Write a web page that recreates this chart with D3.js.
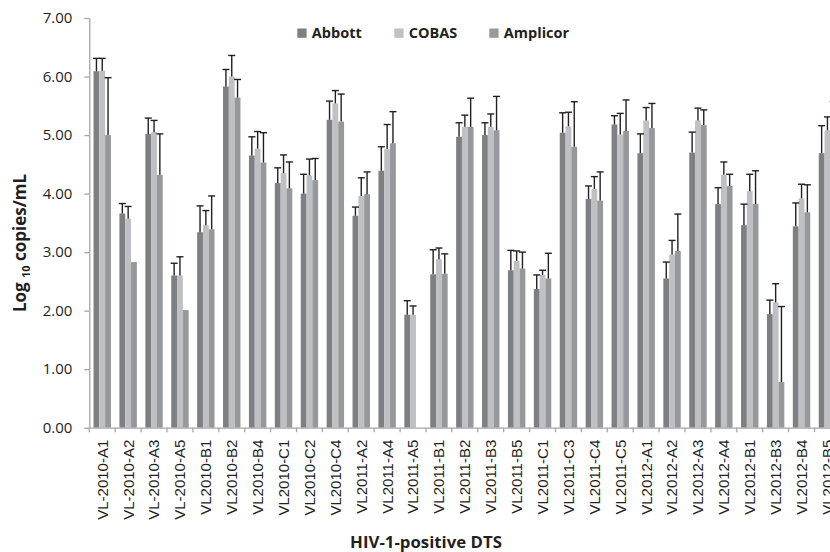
<!DOCTYPE html>
<html>
<head>
<meta charset="utf-8">
<script src="https://cdn.jsdelivr.net/npm/d3@7"></script>
<style>
    body { margin: 0; background: #fff; }
    svg { display: block; }
</style>
</head>
<body>
<div id="chart"></div>
<script>

// Data (log10 copies/mL, mean and top of the error bar)
var categories = ["VL-2010-A1","VL-2010-A2","VL-2010-A3","VL-2010-A5","VL2010-B1","VL2010-B2","VL2010-B4",
    "VL2010-C1","VL2010-C2","VL2010-C4","VL2011-A2","VL2011-A4","VL2011-A5","VL2011-B1","VL2011-B2",
    "VL2011-B3","VL2011-B5","VL2011-C1","VL2011-C3","VL2011-C4","VL2011-C5","VL2012-A1","VL2012-A2",
    "VL2012-A3","VL2012-A4","VL2012-B1","VL2012-B3","VL2012-B4","VL2012-B5"];

var seriesNames = ["Abbott", "COBAS", "Amplicor"];
var seriesColors = ["#7e7f82", "#bfc0c3", "#97989b"];

var abbott   = [6.09,3.66,5.02,2.60,3.34,5.83,4.65,4.18,4.00,5.26,3.62,4.39,1.93,2.62,4.97,5.00,2.69,2.37,5.04,3.91,5.18,4.69,2.55,4.70,3.82,3.46,1.94,3.44,4.69];
var abbottHi = [6.31,3.83,5.29,2.81,3.79,6.12,4.97,4.44,4.33,5.58,3.77,4.80,2.17,3.04,5.21,5.21,3.03,2.61,5.38,4.13,5.33,5.02,2.83,5.05,4.10,3.82,2.18,3.84,5.16];
var cobas    = [6.10,3.57,5.05,2.60,3.46,6.00,4.77,4.35,4.31,5.54,3.96,4.76,1.93,2.88,5.14,5.14,2.85,2.61,5.15,4.08,5.01,5.25,2.96,5.25,4.32,4.04,2.14,3.92,5.08];
var cobasHi  = [6.31,3.78,5.25,2.92,3.71,6.36,5.06,4.66,4.59,5.76,4.27,5.18,2.08,3.07,5.34,5.36,3.02,2.69,5.39,4.29,5.37,5.47,3.20,5.46,4.54,4.33,2.46,4.16,5.31];
var amplicor   = [5.00,2.83,4.32,2.01,3.39,5.64,4.53,4.09,4.23,5.23,3.99,4.86,0,2.63,5.14,5.08,2.72,2.55,4.80,3.88,5.07,5.12,3.02,5.17,4.13,3.82,0.78,3.68,5.10];
var amplicorHi = [5.98,null,5.02,null,3.96,5.95,5.04,4.54,4.60,5.70,4.37,5.40,null,2.97,5.63,5.66,3.00,2.98,5.57,4.37,5.60,5.54,3.65,5.43,4.33,4.39,2.07,4.15,5.57];

var yTicks = [0, 1, 2, 3, 4, 5, 6, 7];

var values = [abbott, cobas, amplicor];
var uppers = [abbottHi, cobasHi, amplicorHi];

// flat table, one row per bar
var bars = [];
categories.forEach(function(c, i) {
    seriesNames.forEach(function(s, j) {
        bars.push({ cat: c, series: s, value: values[j][i], hi: uppers[j][i], color: seriesColors[j] });
    });
});

var width = 830, height = 552;
var margin = { left: 89.3, top: 18, bottom: 124 };
var step = 25.9;

var svg = d3.select("#chart").append("svg")
    .attr("width", width)
    .attr("height", height);

var x = d3.scaleBand()
    .domain(categories)
    .range([margin.left, margin.left + step * categories.length])
    .padding(0);

var xs = d3.scaleBand()
    .domain(seriesNames)
    .range([0, x.bandwidth()])
    .paddingInner(0)
    .paddingOuter(0.73);

var y = d3.scaleLinear()
    .domain([0, 7])
    .range([height - margin.bottom - 0.3, margin.top]);

// bars
svg.append("g").selectAll("rect")
    .data(bars.filter(function(d) { return d.value > 0; }))
    .enter().append("rect")
    .attr("x", function(d) { return x(d.cat) + xs(d.series); })
    .attr("y", function(d) { return y(d.value); })
    .attr("width", xs.bandwidth())
    .attr("height", function(d) { return y(0) - y(d.value); })
    .attr("fill", function(d) { return d.color; });

// error bars (upper only)
var err = svg.append("g")
    .attr("stroke", "#231f20")
    .attr("stroke-width", 1.4)
    .selectAll("g")
    .data(bars.filter(function(d) { return d.hi !== null; }))
    .enter().append("g");

err.append("line")
    .attr("x1", function(d) { return x(d.cat) + xs(d.series) + xs.bandwidth() / 2; })
    .attr("x2", function(d) { return x(d.cat) + xs(d.series) + xs.bandwidth() / 2; })
    .attr("y1", function(d) { return y(d.value); })
    .attr("y2", function(d) { return y(d.hi); });

err.append("line")
    .attr("x1", function(d) { return x(d.cat) + xs(d.series) + xs.bandwidth() / 2 - 3.5; })
    .attr("x2", function(d) { return x(d.cat) + xs(d.series) + xs.bandwidth() / 2 + 3.5; })
    .attr("y1", function(d) { return y(d.hi); })
    .attr("y2", function(d) { return y(d.hi); });

// y axis
var yAxis = d3.axisLeft(y)
    .tickValues(yTicks)
    .tickFormat(d3.format(".2f"))
    .tickSize(5)
    .tickSizeOuter(0)
    .tickPadding(12);

var gy = svg.append("g")
    .attr("transform", "translate(" + margin.left + ",0)")
    .call(yAxis);
gy.select(".domain").attr("stroke", "#a6a6a6").attr("stroke-width", 1.3);
gy.selectAll(".tick line").attr("stroke", "#a6a6a6").attr("stroke-width", 1.3);
gy.selectAll(".tick text")
    .attr("fill", "#231f20")
    .style("font-family", "'Open Sans', sans-serif")
    .style("font-size", "15px");

// x axis
var xAxis = d3.axisBottom(x)
    .tickSize(0)
    .tickSizeOuter(0)
    .tickPadding(0);

var gx = svg.append("g")
    .attr("transform", "translate(0," + y(0) + ")")
    .call(xAxis);
gx.select(".domain").attr("stroke", "#a6a6a6").attr("stroke-width", 1.3);
gx.selectAll(".tick text")
    .attr("transform", "rotate(-90)")
    .attr("text-anchor", "end")
    .attr("x", -12)
    .attr("y", 0)
    .attr("dy", "0.36em")
    .attr("fill", "#231f20")
    .style("font-family", "'Liberation Sans', Arial, sans-serif")
    .style("font-size", "15px");

// tick marks between categories
gx.append("g").selectAll("line")
    .data(categories.concat(["end"]))
    .enter().append("line")
    .attr("x1", function(d, i) { return x.range()[0] + i * x.step(); })
    .attr("x2", function(d, i) { return x.range()[0] + i * x.step(); })
    .attr("y1", 0)
    .attr("y2", 4.5)
    .attr("stroke", "#a6a6a6")
    .attr("stroke-width", 1.3);

// axis titles
svg.append("text")
    .attr("x", 426)
    .attr("y", 548)
    .attr("text-anchor", "middle")
    .attr("fill", "#231f20")
    .style("font-family", "'Open Sans', sans-serif")
    .style("font-weight", "bold")
    .style("font-size", "16.8px")
    .text("HIV-1-positive DTS");

var ylab = svg.append("text")
    .attr("transform", "translate(26,243) rotate(-90)")
    .attr("text-anchor", "middle")
    .attr("fill", "#231f20")
    .style("font-family", "'Open Sans', sans-serif")
    .style("font-weight", "bold")
    .style("font-size", "17px");
ylab.append("tspan").text("Log ");
ylab.append("tspan").attr("dy", 3.5).style("font-size", "11px").text("10");
ylab.append("tspan").attr("dy", -3.5).text(" copies/mL");

// legend
var legendX = [297.3, 394.3, 489.3];
var legend = svg.append("g").selectAll("g")
    .data(seriesNames)
    .enter().append("g")
    .attr("transform", function(d, i) { return "translate(" + legendX[i] + ",28.5)"; });

legend.append("rect")
    .attr("width", 9.3)
    .attr("height", 9.3)
    .attr("fill", function(d, i) { return seriesColors[i]; });

legend.append("text")
    .attr("x", 14.5)
    .attr("y", 9.3)
    .attr("fill", "#231f20")
    .style("font-family", "'Open Sans', sans-serif")
    .style("font-weight", "bold")
    .style("font-size", "14.5px")
    .text(function(d) { return d; });

</script>
</body>
</html>
